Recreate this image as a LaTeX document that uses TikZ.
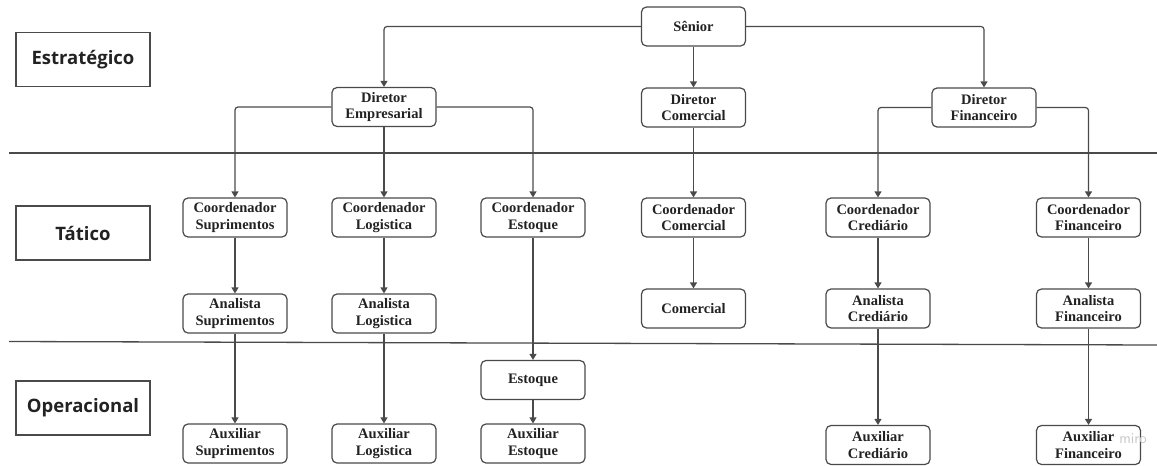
\documentclass[tikz,border=0pt]{standalone}
\usepackage{fontspec}
\setmainfont{Liberation Serif}
\newfontfamily\labelfont{Open Sans}
\usetikzlibrary{arrows.meta}
\definecolor{ink}{HTML}{222222}
\definecolor{edge}{HTML}{4A4A4A}
\tikzset{
  orgbox/.style={draw=edge, line width=1.2pt, rounded corners=5pt, fill=white,
    minimum width=104pt, minimum height=39pt, inner sep=0pt, align=center,
    text=ink, font=\fontsize{14.5}{16.5}\selectfont\bfseries},
  levelbox/.style={draw=edge, line width=1.2pt, minimum width=134pt, minimum height=54pt,
    inner sep=0pt, text=ink, font=\labelfont\fontsize{18.5}{22}\selectfont\bfseries},
  conn/.style={draw=edge, line width=1.2pt, rounded corners=3pt,
    -{Triangle[length=6pt,width=7pt]}},
  sep/.style={draw=edge, line width=1.3pt},
}
\begin{document}
\begin{tikzpicture}[x=1pt,y=-1pt]
\useasboundingbox (0,0) rectangle (1157,466);
% level labels
\node[levelbox] (lE) at (83,59.5) {Estratégico};
\node[levelbox] (lT) at (83,233) {Tático};
\node[levelbox] (lO) at (83,408) {Operacional};
% separators
\coordinate (s1a) at (9,153);
\coordinate (s1b) at (1157,153);
\coordinate (s2a) at (9,341.5);
\coordinate (s2b) at (1157,345);
\draw[sep] (s1a) -- (s1b);
\draw[sep] (s2a) -- (s2b);
% nodes
\node[orgbox] (sen) at (693.5,26.5) {Sênior};
\node[orgbox] (dEmp) at (384,107) {Diretor\\Empresarial};
\node[orgbox] (dCom) at (693.5,107.5) {Diretor\\Comercial};
\node[orgbox] (dFin) at (984,107.5) {Diretor\\Financeiro};
\node[orgbox] (cSup) at (235,217.5) {Coordenador\\Suprimentos};
\node[orgbox] (cLog) at (384,217.5) {Coordenador\\Logistica};
\node[orgbox] (cEst) at (533,217.5) {Coordenador\\Estoque};
\node[orgbox] (cCom) at (693.5,217.5) {Coordenador\\Comercial};
\node[orgbox] (cCre) at (878,217.5) {Coordenador\\Crediário};
\node[orgbox] (cFin) at (1088.5,217.5) {Coordenador\\Financeiro};
\node[orgbox] (aSup) at (235,313.5) {Analista\\Suprimentos};
\node[orgbox] (aLog) at (384,313.5) {Analista\\Logistica};
\node[orgbox] (com) at (693.5,308.5) {Comercial};
\node[orgbox] (aCre) at (878,308.5) {Analista\\Crediário};
\node[orgbox] (aFin) at (1088.5,308.5) {Analista\\Financeiro};
\node[orgbox] (est) at (533,380) {Estoque};
\node[orgbox] (xSup) at (235,443.5) {Auxiliar\\Suprimentos};
\node[orgbox] (xLog) at (384,443.5) {Auxiliar\\Logistica};
\node[orgbox] (xEst) at (533,443.5) {Auxiliar\\Estoque};
\node[orgbox] (xCre) at (878,445) {Auxiliar\\Crediário};
\node[orgbox] (xFin) at (1088.5,445) {Auxiliar\\Financeiro};
% connectors
\draw[conn] (sen.west) -| (dEmp.north);
\draw[conn] (sen.south) -- (dCom.north);
\draw[conn] (sen.east) -| (dFin.north);
\draw[conn] (dEmp.west) -| (cSup.north);
\draw[conn] (dEmp.south) -- (cLog.north);
\draw[conn] (dEmp.east) -| (cEst.north);
\draw[conn] (dCom.south) -- (cCom.north);
\draw[conn] (dFin.west) -| (cCre.north);
\draw[conn] (dFin.east) -| (cFin.north);
\draw[conn] (cSup.south) -- (aSup.north);
\draw[conn] (aSup.south) -- (xSup.north);
\draw[conn] (cLog.south) -- (aLog.north);
\draw[conn] (aLog.south) -- (xLog.north);
\draw[conn] (cEst.south) -- (est.north);
\draw[conn] (est.south) -- (xEst.north);
\draw[conn] (cCom.south) -- (com.north);
\draw[conn] (cCre.south) -- (aCre.north);
\draw[conn] (aCre.south) -- (xCre.north);
\draw[conn] (cFin.south) -- (aFin.north);
\draw[conn] (aFin.south) -- (xFin.north);
% watermark
\node[text=black!22, font=\sffamily\fontsize{15}{15}\selectfont, inner sep=0pt] (wm) at (1133,439) {miro};
\end{tikzpicture}
\end{document}
